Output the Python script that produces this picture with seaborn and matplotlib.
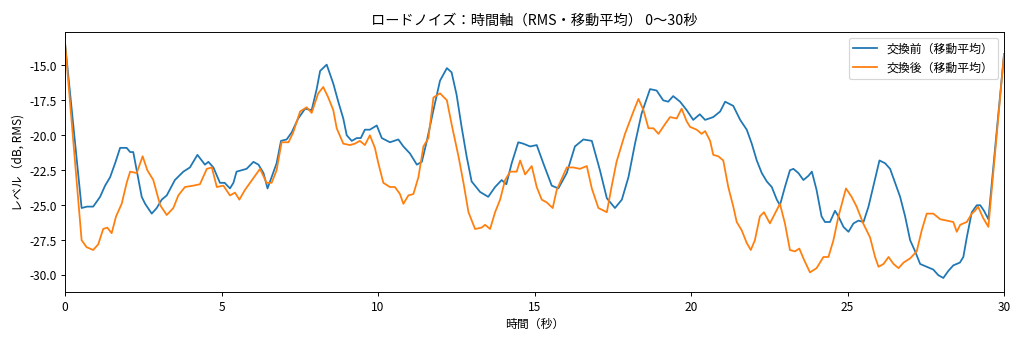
import matplotlib
matplotlib.use("Agg")
import matplotlib.pyplot as plt
import seaborn as sns
import pandas as pd

# --- data ---
time_before = [0.0, 0.53, 0.7, 0.9, 1.12, 1.28, 1.44, 1.6, 1.76, 1.97, 2.08, 2.18, 2.29, 2.45, 2.56, 2.77,
               2.93, 3.09, 3.25, 3.51, 3.78, 3.99, 4.23, 4.47, 4.58, 4.74, 4.95, 5.1, 5.27, 5.38, 5.48,
               5.64, 5.8, 6.02, 6.18, 6.34, 6.47, 6.6, 6.76, 6.9, 7.08, 7.24, 7.45, 7.67, 7.88, 8.04,
               8.15, 8.36, 8.57, 8.73, 8.89, 9.0, 9.16, 9.32, 9.45, 9.58, 9.74, 9.96, 10.12, 10.38,
               10.65, 10.81, 11.02, 11.24, 11.4, 11.56, 11.77, 11.98, 12.2, 12.35, 12.51, 12.67, 12.83,
               12.99, 13.26, 13.52, 13.74, 13.95, 14.1, 14.27, 14.48, 14.64, 14.86, 15.07, 15.28,
               15.55, 15.76, 16.03, 16.29, 16.56, 16.83, 17.09, 17.31, 17.57, 17.79, 18.0, 18.21,
               18.42, 18.69, 18.9, 19.11, 19.27, 19.43, 19.65, 19.86, 20.07, 20.28, 20.45, 20.71,
               20.93, 21.09, 21.35, 21.57, 21.78, 21.94, 22.1, 22.26, 22.42, 22.58, 22.74, 22.84,
               23.0, 23.16, 23.27, 23.43, 23.59, 23.75, 23.86, 24.01, 24.17, 24.28, 24.44, 24.6,
               24.71, 24.87, 25.03, 25.19, 25.35, 25.51, 25.67, 25.83, 26.02, 26.2, 26.36, 26.52,
               26.68, 26.84, 27.0, 27.16, 27.32, 27.53, 27.74, 27.9, 28.06, 28.22, 28.38, 28.59,
               28.7, 28.81, 28.97, 29.13, 29.24, 29.36, 29.5, 30.0]
level_before = [-13.4, -25.2, -25.1, -25.1, -24.4, -23.6, -23.0, -22.0, -20.9, -20.9, -21.2, -21.2, -22.5,
                -24.4, -24.9, -25.6, -25.2, -24.6, -24.3, -23.2, -22.6, -22.3, -21.4, -22.1, -21.9,
                -22.3, -23.4, -23.4, -23.8, -23.4, -22.6, -22.5, -22.4, -21.9, -22.1, -22.7, -23.8,
                -23.0, -22.0, -20.4, -20.3, -19.8, -18.8, -18.1, -18.2, -16.7, -15.4, -14.95, -16.3,
                -17.6, -18.8, -20.0, -20.4, -20.2, -20.2, -19.6, -19.6, -19.3, -20.2, -20.5, -20.3,
                -20.8, -21.3, -22.1, -21.9, -20.4, -18.2, -16.1, -15.2, -15.5, -17.1, -19.4, -21.5,
                -23.3, -24.05, -24.4, -23.7, -23.2, -23.5, -22.0, -20.5, -20.6, -20.8, -20.7, -22.0,
                -23.6, -23.8, -22.7, -20.8, -20.3, -20.4, -22.5, -24.5, -25.2, -24.6, -23.0, -20.6,
                -18.45, -16.7, -16.8, -17.5, -17.6, -17.2, -17.6, -18.2, -18.9, -18.5, -18.9, -18.7,
                -18.3, -17.6, -17.9, -18.9, -19.6, -20.6, -21.8, -22.7, -23.3, -23.7, -24.6, -25.0,
                -23.7, -22.5, -22.4, -22.7, -23.2, -22.9, -22.6, -23.9, -25.8, -26.2, -26.2, -25.4,
                -25.8, -26.55, -26.9, -26.3, -26.1, -26.2, -25.1, -23.6, -21.8, -22.0, -22.4, -23.4,
                -24.4, -25.8, -27.5, -28.3, -29.2, -29.4, -29.6, -30.0, -30.2, -29.7, -29.3, -29.1,
                -28.7, -27.3, -25.5, -25.0, -25.0, -25.4, -26.0, -14.2]

time_after = [0.0, 0.53, 0.69, 0.9, 1.06, 1.22, 1.35, 1.49, 1.63, 1.81, 1.97, 2.08, 2.29, 2.48, 2.63, 2.82,
              3.04, 3.25, 3.46, 3.62, 3.83, 4.1, 4.31, 4.53, 4.69, 4.85, 5.06, 5.27, 5.43, 5.57, 5.75,
              5.91, 6.23, 6.44, 6.6, 6.76, 6.92, 7.14, 7.29, 7.51, 7.72, 7.88, 8.09, 8.25, 8.41, 8.57,
              8.68, 8.89, 9.1, 9.26, 9.42, 9.58, 9.74, 9.9, 10.01, 10.17, 10.38, 10.54, 10.7, 10.81,
              10.97, 11.13, 11.29, 11.45, 11.61, 11.77, 11.98, 12.2, 12.35, 12.57, 12.73, 12.89, 13.1,
              13.31, 13.42, 13.58, 13.74, 13.9, 14.06, 14.22, 14.43, 14.54, 14.7, 14.91, 15.07, 15.23,
              15.39, 15.58, 15.71, 15.87, 16.03, 16.24, 16.45, 16.67, 16.83, 17.04, 17.31, 17.46,
              17.62, 17.89, 18.16, 18.32, 18.48, 18.64, 18.8, 18.96, 19.17, 19.33, 19.54, 19.7, 19.86,
              19.97, 20.18, 20.34, 20.45, 20.61, 20.71, 20.87, 21.03, 21.19, 21.35, 21.46, 21.62,
              21.78, 21.91, 22.04, 22.2, 22.33, 22.52, 22.68, 22.84, 23.0, 23.16, 23.32, 23.46, 23.61,
              23.8, 24.01, 24.23, 24.39, 24.55, 24.71, 24.95, 25.13, 25.29, 25.5, 25.72, 25.88, 25.99,
              26.15, 26.31, 26.47, 26.63, 26.79, 27.0, 27.21, 27.37, 27.53, 27.74, 27.96, 28.17, 28.38,
              28.49, 28.6, 28.81, 28.97, 29.07, 29.17, 29.33, 29.5, 30.0]
level_after = [-13.4, -27.5, -28.0, -28.2, -27.8, -26.7, -26.6, -27.0, -25.8, -24.9, -23.4, -22.6, -22.7,
               -21.5, -22.5, -23.2, -25.0, -25.7, -25.2, -24.3, -23.7, -23.6, -23.5, -22.4, -22.3, -23.7,
               -23.6, -24.3, -24.1, -24.6, -23.9, -23.4, -22.4, -23.4, -23.4, -22.5, -20.5, -20.5, -19.8,
               -18.3, -18.0, -18.4, -17.0, -16.55, -17.3, -18.2, -19.5, -20.6, -20.7, -20.6, -20.4, -20.7,
               -20.0, -20.9, -22.0, -23.4, -23.7, -23.7, -24.2, -24.9, -24.3, -24.2, -23.0, -20.8, -20.2,
               -17.3, -17.0, -17.5, -19.2, -21.5, -23.4, -25.5, -26.7, -26.6, -26.4, -26.7, -25.5, -24.6,
               -23.2, -22.6, -22.6, -21.8, -22.8, -22.2, -23.7, -24.6, -24.8, -25.2, -23.9, -23.1, -22.3,
               -22.3, -22.4, -22.2, -23.8, -25.2, -25.5, -23.7, -21.9, -19.9, -18.3, -17.4, -18.2, -19.5,
               -19.5, -19.9, -19.2, -18.7, -18.8, -18.1, -19.0, -19.4, -19.6, -19.9, -19.7, -20.4, -21.4,
               -21.5, -21.8, -23.7, -25.1, -26.2, -26.8, -27.7, -28.2, -27.5, -25.8, -25.5, -26.3, -25.6,
               -24.9, -26.3, -28.2, -28.3, -28.1, -28.9, -29.8, -29.5, -28.7, -28.7, -27.5, -25.8, -23.8,
               -24.4, -25.1, -26.3, -27.3, -28.7, -29.4, -29.2, -28.7, -29.2, -29.5, -29.1, -28.8, -28.3,
               -26.8, -25.6, -25.6, -26.0, -26.1, -26.2, -26.9, -26.4, -26.2, -25.6, -25.4, -25.1, -25.9,
               -26.55, -14.2]

label_before = "交換前（移動平均）"
label_after = "交換後（移動平均）"
title = "ロードノイズ：時間軸（RMS・移動平均） 0〜30秒"
xlabel = "時間（秒）"
ylabel = "レベル（dB, RMS)"

plt.rcParams['font.family'] = ['Noto Sans CJK JP', 'DejaVu Sans']
plt.rcParams['axes.unicode_minus'] = False

df_before = pd.DataFrame({"t": time_before, "v": level_before})
df_after = pd.DataFrame({"t": time_after, "v": level_after})

fig, ax = plt.subplots(figsize=(12, 4), dpi=100)
sns.lineplot(data=df_before, x="t", y="v", ax=ax, color="#1f77b4", linewidth=1.5,
             estimator=None, sort=False, label=label_before)
sns.lineplot(data=df_after, x="t", y="v", ax=ax, color="#ff7f0e", linewidth=1.5,
             estimator=None, sort=False, label=label_after)

ax.set_xlim(0, 30)
ax.set_ylim(-31.2, -12.6)
ax.set_yticks([-30.0, -27.5, -25.0, -22.5, -20.0, -17.5, -15.0])
ax.set_title(title, fontsize=12)
ax.set_xlabel(xlabel)
ax.set_ylabel(ylabel)
ax.legend(loc="upper right")

fig.subplots_adjust(left=0.0635, right=0.9805, top=0.906, bottom=0.1437)
fig.savefig("out.png", dpi=1024 / 12)
